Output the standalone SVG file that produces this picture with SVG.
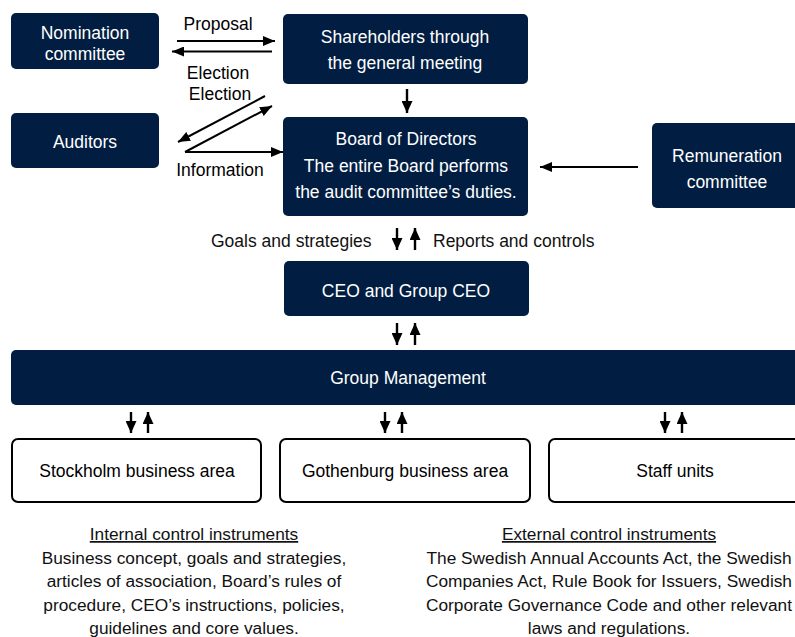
<svg xmlns="http://www.w3.org/2000/svg" width="795" height="637" viewBox="0 0 795 637">
<style>
  .box { fill: #011e42; }
  .wbox { fill: #ffffff; stroke: #000000; stroke-width: 2; }
  .wt { fill: #ffffff; font-family: "Liberation Sans", Arial, sans-serif; font-size: 17.5px; text-anchor: middle; }
  .bt { fill: #000000; font-family: "Liberation Sans", Arial, sans-serif; font-size: 17.5px; text-anchor: middle; }
  .lt { fill: #111111; font-family: "Liberation Sans", Arial, sans-serif; font-size: 17.5px; }
  .ft { fill: #111111; font-family: "Liberation Sans", Arial, sans-serif; font-size: 17.3px; text-anchor: middle; }
  .ar { stroke: #000000; stroke-width: 2; fill: none; marker-end: url(#ah); }
  .va { stroke: #000000; stroke-width: 2.4; fill: none; marker-end: url(#vh); }
</style>
<defs>
  <marker id="ah" viewBox="0 0 12 10" markerWidth="12" markerHeight="10" refX="12" refY="5" orient="auto" markerUnits="userSpaceOnUse">
    <path d="M0,0 L12,5 L0,10 z" fill="#000000"/>
  </marker>
  <marker id="vh" viewBox="0 0 12 11" markerWidth="12" markerHeight="11" refX="12" refY="5.5" orient="auto" markerUnits="userSpaceOnUse">
    <path d="M0,0 L12,5.5 L0,11 z" fill="#000000"/>
  </marker>
</defs>

<g id="nomination">
  <rect class="box" x="11" y="13" width="148" height="56" rx="5"/>
  <text class="wt" x="85" y="39">Nomination</text>
  <text class="wt" x="85" y="60">committee</text>
</g>
<g id="shareholders">
  <rect class="box" x="283" y="14" width="245" height="70" rx="5"/>
  <text class="wt" x="405" y="43">Shareholders through</text>
  <text class="wt" x="405" y="69">the general meeting</text>
</g>
<g id="auditors">
  <rect class="box" x="11" y="113" width="148" height="55" rx="5"/>
  <text class="wt" x="85" y="148">Auditors</text>
</g>
<g id="board">
  <rect class="box" x="283" y="117" width="245" height="99" rx="5"/>
  <text class="wt" x="406" y="145">Board of Directors</text>
  <text class="wt" x="406" y="172">The entire Board performs</text>
  <text class="wt" x="406" y="198">the audit committee’s duties.</text>
</g>
<g id="remuneration">
  <rect class="box" x="652" y="123" width="150" height="85" rx="5"/>
  <text class="wt" x="727" y="162">Remuneration</text>
  <text class="wt" x="727" y="188">committee</text>
</g>
<g id="ceo">
  <rect class="box" x="284" y="261" width="245" height="55" rx="5"/>
  <text class="wt" x="406" y="297">CEO and Group CEO</text>
</g>
<g id="group-management">
  <rect class="box" x="11" y="350" width="795" height="55" rx="5"/>
  <text class="wt" x="408" y="384">Group Management</text>
</g>
<g id="stockholm">
  <rect class="wbox" x="12" y="439" width="249" height="63" rx="6"/>
  <text class="bt" x="137" y="477">Stockholm business area</text>
</g>
<g id="gothenburg">
  <rect class="wbox" x="280" y="439" width="250" height="63" rx="6"/>
  <text class="bt" x="405" y="477">Gothenburg business area</text>
</g>
<g id="staff">
  <rect class="wbox" x="549" y="439" width="260" height="63" rx="6"/>
  <text class="bt" x="675" y="477">Staff units</text>
</g>

<g id="connectors">
  <line class="ar" x1="177" y1="41" x2="275" y2="41"/>
  <line class="ar" x1="272" y1="51.5" x2="172" y2="51.5"/>
  <line class="ar" x1="265" y1="96" x2="178" y2="142"/>
  <polyline class="ar" points="185,152 283,152"/>
  <line class="ar" x1="185" y1="152" x2="272" y2="106"/>
  <line class="ar" x1="638" y1="167" x2="540" y2="167"/>
  <line class="va" x1="407" y1="89" x2="407" y2="113"/>
  <line class="va" x1="397" y1="228" x2="397" y2="250"/>
  <line class="va" x1="415" y1="250" x2="415" y2="228"/>
  <line class="va" x1="397" y1="323" x2="397" y2="345"/>
  <line class="va" x1="415" y1="345" x2="415" y2="323"/>
  <line class="va" x1="131" y1="412" x2="131" y2="433"/>
  <line class="va" x1="148" y1="433" x2="148" y2="412"/>
  <line class="va" x1="385" y1="412" x2="385" y2="433"/>
  <line class="va" x1="402" y1="433" x2="402" y2="412"/>
  <line class="va" x1="665" y1="412" x2="665" y2="433"/>
  <line class="va" x1="682" y1="433" x2="682" y2="412"/>
</g>

<g id="labels">
  <text class="bt" x="218" y="30">Proposal</text>
  <text class="bt" x="218" y="79">Election</text>
  <text class="bt" x="220" y="100">Election</text>
  <text class="bt" x="220" y="176">Information</text>
  <text class="lt" x="211" y="247">Goals and strategies</text>
  <text class="lt" x="433" y="247">Reports and controls</text>
</g>

<g id="internal">
  <text class="ft" x="194" y="540" text-decoration="underline">Internal control instruments</text>
  <text class="ft" x="194" y="564">Business concept, goals and strategies,</text>
  <text class="ft" x="194" y="587">articles of association, Board’s rules of</text>
  <text class="ft" x="194" y="611">procedure, CEO’s instructions, policies,</text>
  <text class="ft" x="194" y="634">guidelines and core values.</text>
</g>
<g id="external">
  <text class="ft" x="609" y="540" text-decoration="underline">External control instruments</text>
  <text class="ft" x="609" y="564">The Swedish Annual Accounts Act, the Swedish</text>
  <text class="ft" x="609" y="587">Companies Act, Rule Book for Issuers, Swedish</text>
  <text class="ft" x="609" y="611">Corporate Governance Code and other relevant</text>
  <text class="ft" x="609" y="634">laws and regulations.</text>
</g>
</svg>
